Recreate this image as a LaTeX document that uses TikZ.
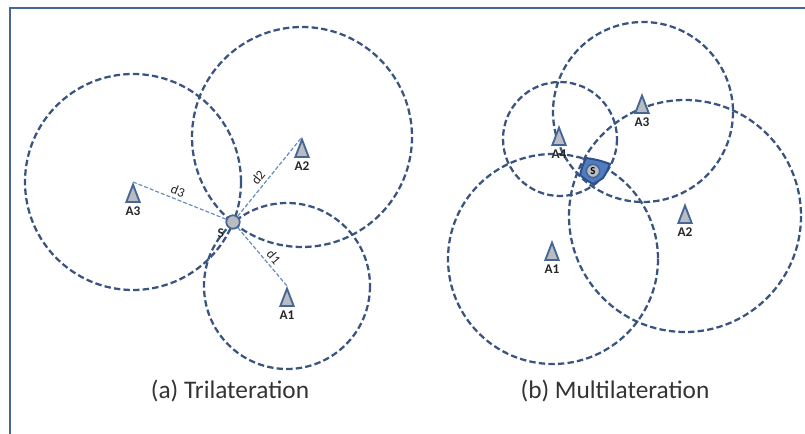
\documentclass[tikz,border=0pt]{standalone}
\usepackage{fontspec}
\setmainfont{Carlito}
\usetikzlibrary{shapes.geometric, positioning}
\definecolor{myframe}{RGB}{70,102,150}
\definecolor{mycircle}{RGB}{58,84,128}
\definecolor{myline}{RGB}{100,140,190}
\definecolor{mygray}{RGB}{185,188,195}
\definecolor{myregion}{RGB}{80,125,192}
\definecolor{myedge}{RGB}{45,80,140}
\tikzset{
  edgeline/.style={draw=myframe, line width=1.9pt},
  rangecircle/.style={draw=mycircle, line width=1.7pt, dash pattern=on 4.8pt off 2.4pt},
  beacon/.style={isosceles triangle, shape border rotate=90,
    isosceles triangle apex angle=42, draw=myframe, fill=mygray,
    line width=1.4pt, inner sep=0pt, minimum height=13pt, anchor=apex},
  beaconlbl/.style={font=\bfseries\fontsize{10}{12}\selectfont, text=black!85, inner sep=1pt},
  dist/.style={draw=myline, line width=0.9pt, dash pattern=on 3pt off 1.5pt},
  distlbl/.style={font=\fontsize{10}{12}\selectfont, text=black!85, inner sep=2.5pt},
  target/.style={circle, draw=myframe, fill=mygray, line width=1.2pt,
    minimum size=10pt, inner sep=0pt},
  region/.style={draw=myedge, fill=myregion, line width=1.5pt, line join=round},
  captext/.style={font=\fontsize{19}{22}\selectfont, text=black!80}
}
\begin{document}
\begin{tikzpicture}[x=0.75pt, y=-0.75pt]
\useasboundingbox (0,0) rectangle (805,434);
\draw[edgeline] (805,8) -- (10,8) -- (10,434);

% (a) trilateration
\node[beacon] (L1) at (287,286) {};
\node[beacon] (L2) at (302,137) {};
\node[beacon] (L3) at (133,182) {};
\draw[rangecircle] (L1.apex) circle[radius=83];
\draw[rangecircle] (L2.apex) circle[radius=110];
\draw[rangecircle] (L3.apex) circle[radius=108];
\node[target, label={[beaconlbl, label distance=1pt]212:S}] (LS) at (233,222) {};
\draw[dist] (LS) -- (L1.apex) node[pos=.6, sloped, above, distlbl] {d1};
\draw[dist] (LS) -- (L2.apex) node[pos=.42, sloped, above, distlbl] {d2};
\draw[dist] (L3.apex) -- (LS) node[pos=.45, sloped, above, distlbl] {d3};
\node[target] at (LS) {};
\node[beaconlbl, below=2pt of L1] {A1};
\node[beaconlbl, below=2pt of L2] {A2};
\node[beaconlbl, below=2pt of L3] {A3};
\node[captext] (capa) at (230,391) {(a) Trilateration};

% (b) multilateration
\draw[rangecircle] (553,259) circle[radius=105];
\draw[rangecircle] (685,216) circle[radius=116];
\draw[rangecircle] (643,112) circle[radius=90];
\draw[rangecircle] (560,139) circle[radius=57];
\draw[region] (586,158) to[bend left=6] (610,164) to[bend left=6] (603,178)
  to[bend left=4] (593,184) to[bend left=6] (580,175) to[bend left=6] cycle;
\node[beacon] (R1) at (552,240) {};
\node[beacon] (R2) at (685,203) {};
\node[beacon] (R3) at (642,93) {};
\node[beacon] (R4) at (559,125) {};
\node[beaconlbl, below=2pt of R1] {A1};
\node[beaconlbl, below=2pt of R2] {A2};
\node[beaconlbl, below=2pt of R3] {A3};
\node[beaconlbl, below=2pt of R4] {A4};
\node[target, minimum size=10pt, font=\bfseries\fontsize{8}{9}\selectfont] (RS) at (593,171) {S};
\node[captext] (capb) at (615,391) {(b) Multilateration};
\end{tikzpicture}
\end{document}
